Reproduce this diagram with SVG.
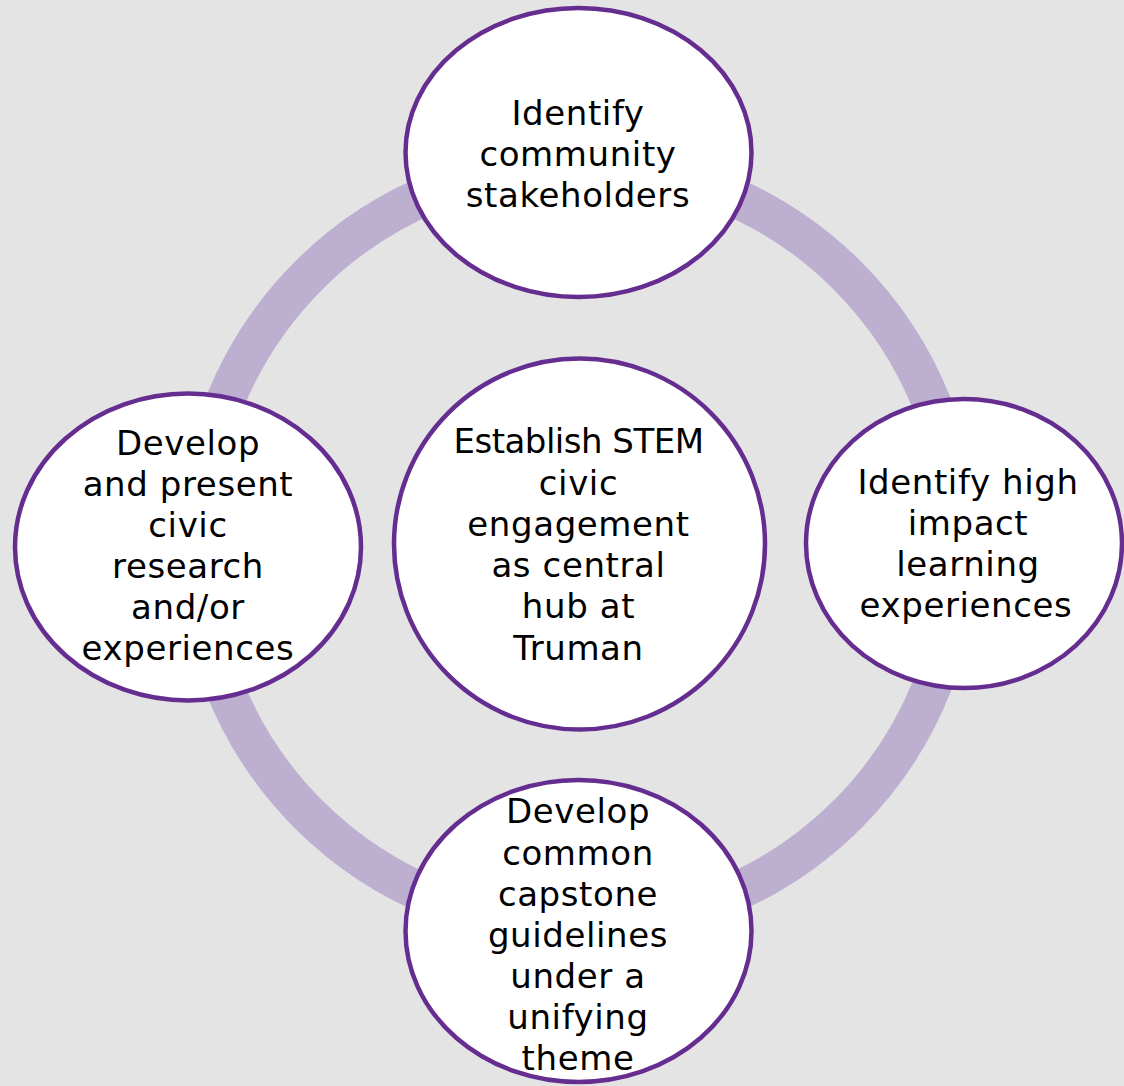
<svg xmlns="http://www.w3.org/2000/svg" width="1124" height="1086" viewBox="0 0 1124 1086">
<style>
.bg{fill:#e4e4e4}
.ring{fill:none;stroke:#bcafd0;stroke-width:39}
.node{fill:#ffffff;stroke:#662d91;stroke-width:4.5}
.lbl{font-family:"DejaVu Sans","Liberation Sans",sans-serif;font-size:34px;fill:#000000;text-anchor:middle;letter-spacing:0.6px}
.tight{letter-spacing:-0.5px}
</style>
<rect class="bg" x="0" y="0" width="1124" height="1086"/>
<g id="connectors">
<circle class="ring" cx="578" cy="545" r="381"/>
</g>
<g id="node-top">
<ellipse class="node" cx="578.5" cy="152.5" rx="173" ry="144.5"/>
<text class="lbl" x="578" y="125">Identify</text>
<text class="lbl" x="578" y="166">community</text>
<text class="lbl" x="578" y="207">stakeholders</text>
</g>
<g id="node-right">
<ellipse class="node" cx="964" cy="543.5" rx="158" ry="144.5"/>
<text class="lbl" x="968" y="494">Identify high</text>
<text class="lbl" x="968" y="535">impact</text>
<text class="lbl" x="968" y="576">learning</text>
<text class="lbl" x="966" y="617">experiences</text>
</g>
<g id="node-bottom">
<ellipse class="node" cx="578.5" cy="931" rx="173" ry="151"/>
<text class="lbl" x="578" y="823">Develop</text>
<text class="lbl" x="578" y="865">common</text>
<text class="lbl" x="578" y="906">capstone</text>
<text class="lbl" x="578" y="947">guidelines</text>
<text class="lbl" x="578" y="988">under a</text>
<text class="lbl" x="578" y="1029">unifying</text>
<text class="lbl" x="578" y="1070">theme</text>
</g>
<g id="node-left">
<ellipse class="node" cx="188" cy="547" rx="173" ry="153.5"/>
<text class="lbl" x="188" y="455">Develop</text>
<text class="lbl" x="188" y="496">and present</text>
<text class="lbl" x="188" y="537">civic</text>
<text class="lbl" x="188" y="578">research</text>
<text class="lbl" x="188" y="619">and/or</text>
<text class="lbl" x="188" y="660">experiences</text>
</g>
<g id="node-center">
<circle class="node" cx="579.5" cy="544" r="185.5"/>
<text class="lbl tight" x="578.5" y="453">Establish STEM</text>
<text class="lbl" x="578.5" y="495">civic</text>
<text class="lbl" x="578.5" y="536">engagement</text>
<text class="lbl" x="578.5" y="577">as central</text>
<text class="lbl" x="578.5" y="618">hub at</text>
<text class="lbl" x="578.5" y="660">Truman</text>
</g>
</svg>
